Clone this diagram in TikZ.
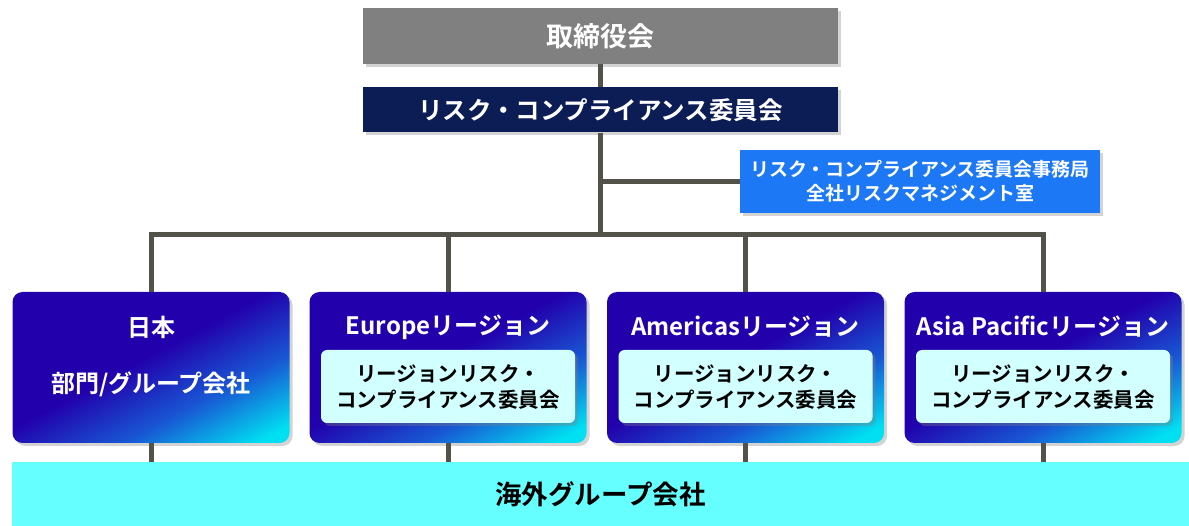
\documentclass[tikz,border=0pt]{standalone}
\usepackage{fontspec}
\setmainfont{Noto Sans CJK JP}[BoldFont={* Bold}]
\usetikzlibrary{positioning}
\usetikzlibrary{shadows}

\definecolor{boardgray}{RGB}{128,128,128}
\definecolor{rccnavy}{RGB}{12,28,84}
\definecolor{secblue}{RGB}{28,120,245}
\definecolor{regdark}{RGB}{34,0,172}
\definecolor{regmid}{RGB}{24,88,212}
\definecolor{regcyan}{RGB}{0,224,242}
\definecolor{inlight}{RGB}{210,255,255}
\definecolor{seacyan}{RGB}{102,255,255}
\definecolor{linegray}{RGB}{82,82,74}
\pgfdeclarehorizontalshading{regionshade}{100bp}{color(0bp)=(regdark); color(47bp)=(regdark); color(64bp)=(regmid); color(80bp)=(regcyan); color(100bp)=(regcyan)}

\newcommand{\fs}[2]{\bfseries\fontsize{#1}{#2}\selectfont}

\begin{document}
\begin{tikzpicture}
  [x=1pt, y=-1pt,
   shad/.style={drop shadow={shadow xshift=3pt, shadow yshift=-3pt, opacity=.35}},
   topbox/.style={rectangle, minimum width=475pt, text=white, shad, inner sep=0pt},
   region/.style={rectangle, rounded corners=10pt, minimum width=277pt, minimum height=151pt,
                  shading=regionshade, shading angle=-62, shad},
   head/.style={text=white, font=\fs{24}{28}, inner sep=0pt},
   inbox/.style={rectangle, rounded corners=6pt, fill=inlight, minimum width=254pt,
                 minimum height=73pt, align=center, font=\fs{20.5}{26}, shad, inner sep=0pt},
   conn/.style={draw=linegray, line width=5pt}]
  \useasboundingbox (0,0) rectangle (1189,526);

  % board and committee
  \node (board) [topbox, fill=boardgray, minimum height=56pt, font=\fs{27}{30}] at (600.5,36) {取締役会};
  \node (rcc) [topbox, fill=rccnavy, minimum height=45pt, font=\fs{24.5}{28}] at (600.5,110) {リスク・コンプライアンス委員会};
  \node (sec) [rectangle, fill=secblue, minimum width=360pt, minimum height=63pt, text=white,
               align=center, font=\fs{19}{24}, shad, inner sep=0pt] at (920,181.5)
        {リスク・コンプライアンス委員会事務局\\全社リスクマネジメント室};
  \coordinate (bus) at (600.5,235);

  % regions
  \node (r1) [region] at (151,367.5) {};
  \node (r2) [region] at (448,367.5) {};
  \node (r3) [region] at (745.5,367.5) {};
  \node (r4) [region] at (1043,367.5) {};

  \node (t1) [head] at (151,327) {日本};
  \node (g1) [head] at (151,384) {部門/グループ会社};
  \node (t2) [head] at (448,327) {Europeリージョン};
  \node (t3) [head] at (745.5,327) {Americasリージョン};
  \node (t4) [head] at (1043,327) {Asia Pacificリージョン};

  \node (c2) [inbox, above=20pt of r2.south] {リージョンリスク・\\コンプライアンス委員会};
  \node (c3) [inbox, above=20pt of r3.south] {リージョンリスク・\\コンプライアンス委員会};
  \node (c4) [inbox, above=20pt of r4.south] {リージョンリスク・\\コンプライアンス委員会};

  % overseas companies
  \node (sea) [rectangle, fill=seacyan, minimum width=1177pt, minimum height=64pt,
               font=\fs{26.5}{30}, inner sep=0pt] at (600.5,494) {海外グループ会社};

  \draw[conn] (board) -- (rcc);
  \draw[conn] (rcc) -- (bus);
  \draw[conn] (sec) -- (sec -| rcc);
  \draw[conn] (r1) |- (bus) -| (r4);
  \draw[conn] (r2) -- (r2 |- bus);
  \draw[conn] (r3) -- (r3 |- bus);
  \draw[conn] (r1) -- (r1 |- sea.north);
  \draw[conn] (r2) -- (r2 |- sea.north);
  \draw[conn] (r3) -- (r3 |- sea.north);
  \draw[conn] (r4) -- (r4 |- sea.north);
\end{tikzpicture}
\end{document}
